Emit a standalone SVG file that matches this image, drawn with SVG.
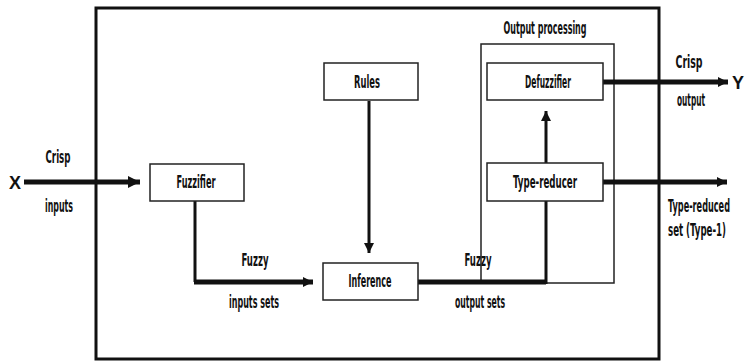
<svg xmlns="http://www.w3.org/2000/svg" width="745" height="364" viewBox="0 0 745 364">
<defs>
<style>
.box{fill:#fff;stroke:#222;stroke-width:1.5}
.t{font-family:"DejaVu Sans Condensed","DejaVu Sans",sans-serif;font-stretch:condensed;font-weight:bold;font-size:17px;fill:#111;text-anchor:middle;dominant-baseline:central}
.thick{fill:none;stroke:#111;stroke-width:5}
.thin{fill:none;stroke:#111;stroke-width:3}
.xy{font-family:"Liberation Sans",Arial,sans-serif;font-weight:bold;font-size:18px;fill:#111;text-anchor:middle;dominant-baseline:central}
</style>
<marker id="ah" markerWidth="10" markerHeight="10" refX="10" refY="5" orient="auto" markerUnits="userSpaceOnUse">
<path d="M0,0 L10,5 L0,10 z" fill="#111"/>
</marker>
<marker id="ahs" markerWidth="12" markerHeight="12" refX="12" refY="6" orient="auto" markerUnits="userSpaceOnUse">
<path d="M0,0 L12,6 L0,12 z" fill="#111"/>
</marker>
</defs>
<rect x="0" y="0" width="745" height="364" fill="#fff"/>
<g id="system">
<rect x="96" y="8" width="563" height="351" fill="none" stroke="#111" stroke-width="3"/>
</g>
<g id="output-processing">
<rect class="box" x="481" y="44" width="133" height="239" stroke-width="1.2"/>
<text class="t" x="545" y="28" textLength="83" lengthAdjust="spacingAndGlyphs">Output processing</text>
</g>
<g id="connectors">
<path class="thick" d="M24,182 H140" marker-end="url(#ahs)"/>
<path class="thin" d="M195,201 V282"/>
<path class="thick" d="M194,282 H313" marker-end="url(#ah)"/>
<path class="thin" d="M369,101 V253" marker-end="url(#ah)"/>
<path class="thick" d="M418,282 H546"/>
<path class="thin" d="M546,284 V190" marker-end="url(#ah)"/>
<path class="thin" d="M546,163 V111" marker-end="url(#ah)"/>
<path class="thick" d="M603,82 H728" marker-end="url(#ah)"/>
<path class="thick" d="M603,182 H727" marker-end="url(#ah)"/>
</g>
<g id="X"><text class="xy" x="15" y="183">X</text></g>
<g id="Y"><text class="xy" x="738" y="83">Y</text></g>
<g id="fuzzifier">
<rect class="box" x="150" y="164" width="94" height="37"/>
<text class="t" x="196" y="182" textLength="39" lengthAdjust="spacingAndGlyphs">Fuzzifier</text>
</g>
<g id="rules">
<rect class="box" x="324" y="63" width="94" height="37"/>
<text class="t" x="367" y="82" textLength="26" lengthAdjust="spacingAndGlyphs">Rules</text>
</g>
<g id="inference">
<rect class="box" x="323" y="263" width="95" height="37"/>
<text class="t" x="370" y="281" textLength="43" lengthAdjust="spacingAndGlyphs">Inference</text>
</g>
<g id="defuzzifier">
<rect class="box" x="487" y="63" width="116" height="37"/>
<text class="t" x="548" y="82" textLength="46" lengthAdjust="spacingAndGlyphs">Defuzzifier</text>
</g>
<g id="type-reducer">
<rect class="box" x="487" y="163" width="116" height="38"/>
<text class="t" x="545" y="182" textLength="64" lengthAdjust="spacingAndGlyphs">Type-reducer</text>
</g>
<g id="labels">
<text class="t" x="58" y="157" textLength="25" lengthAdjust="spacingAndGlyphs">Crisp</text>
<text class="t" x="59" y="206" textLength="28" lengthAdjust="spacingAndGlyphs">inputs</text>
<text class="t" x="255" y="260" textLength="27" lengthAdjust="spacingAndGlyphs">Fuzzy</text>
<text class="t" x="254" y="302" textLength="50" lengthAdjust="spacingAndGlyphs">inputs sets</text>
<text class="t" x="478" y="260" textLength="27" lengthAdjust="spacingAndGlyphs">Fuzzy</text>
<text class="t" x="480" y="302" textLength="50" lengthAdjust="spacingAndGlyphs">output sets</text>
<text class="t" x="689" y="62" textLength="27" lengthAdjust="spacingAndGlyphs">Crisp</text>
<text class="t" x="691" y="100" textLength="28" lengthAdjust="spacingAndGlyphs">output</text>
<text class="t" transform="translate(699,206) scale(0.5,1)" x="0" y="0" textLength="124" lengthAdjust="spacingAndGlyphs">Type-reduced</text>
<text class="t" transform="translate(697,230) scale(0.5,1)" x="0" y="0" textLength="116" lengthAdjust="spacingAndGlyphs">set (Type-1)</text>
</g>
</svg>
